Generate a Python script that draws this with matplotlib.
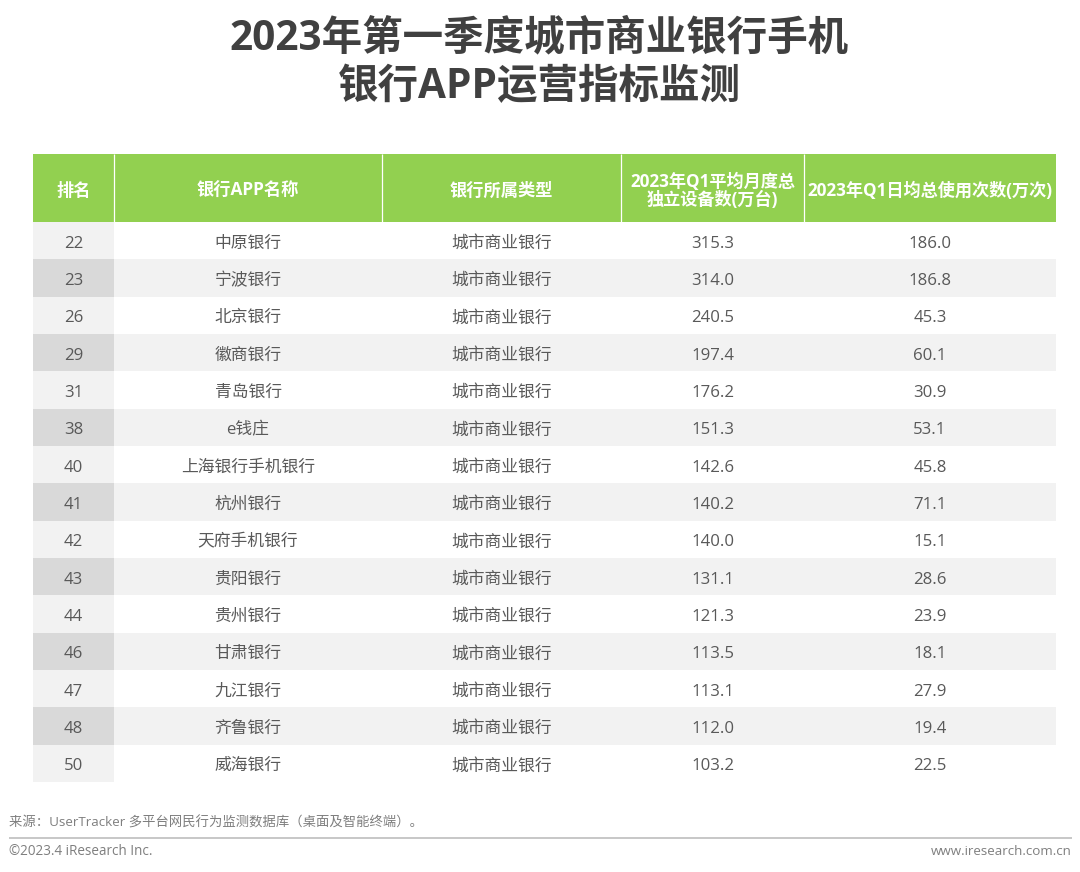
import matplotlib
matplotlib.use("Agg")
import matplotlib.pyplot as plt
from matplotlib.patches import Rectangle

plt.rcParams['font.family'] = ['Open Sans', 'Noto Sans CJK SC', 'DejaVu Sans']

title_lines = ["2023年第一季度城市商业银行手机", "银行APP运营指标监测"]
headers = ["排名", "银行APP名称", "银行所属类型", "2023年Q1平均月度总\n独立设备数(万台)", "2023年Q1日均总使用次数(万次)"]
ranks = [22, 23, 26, 29, 31, 38, 40, 41, 42, 43, 44, 46, 47, 48, 50]
names = ["中原银行", "宁波银行", "北京银行", "徽商银行", "青岛银行", "e钱庄", "上海银行手机银行", "杭州银行",
         "天府手机银行", "贵阳银行", "贵州银行", "甘肃银行", "九江银行", "齐鲁银行", "威海银行"]
bank_type = "城市商业银行"
devices = [315.3, 314.0, 240.5, 197.4, 176.2, 151.3, 142.6, 140.2, 140.0, 131.1, 121.3, 113.5, 113.1, 112.0, 103.2]
usage = [186.0, 186.8, 45.3, 60.1, 30.9, 53.1, 45.8, 71.1, 15.1, 28.6, 23.9, 18.1, 27.9, 19.4, 22.5]
source = "来源：UserTracker 多平台网民行为监测数据库（桌面及智能终端）。"
copyright_text = "©2023.4 iResearch Inc."
website = "www.iresearch.com.cn"

col_edges = [33, 114, 382, 621, 804, 1056]
header_top, header_bottom = 154, 222
row_h = 37.33
GREEN, TXT = "#92d050", "#595959"

fig = plt.figure(figsize=(10.8, 8.72), dpi=100)
ax = fig.add_axes([0, 0, 1, 1])
ax.set_xlim(0, 1080)
ax.set_ylim(872, 0)
ax.axis("off")

for line, y in zip(title_lines, [39, 88]):
    ax.text(539, y, line, ha="center", va="center", fontsize=29.2, fontweight="bold", color="#404040")

ax.add_patch(Rectangle((col_edges[0], header_top), col_edges[-1] - col_edges[0], header_bottom - header_top,
                       fc=GREEN, ec="none"))
for x in col_edges[1:-1]:
    ax.plot([x, x], [header_top, header_bottom], color="#ffffff", lw=0.9, solid_capstyle="butt")
centers = [(a + b) / 2 for a, b in zip(col_edges[:-1], col_edges[1:])]
for i, (cx, h) in enumerate(zip(centers, headers)):
    ax.text(cx, 191, h, ha="center", va="center", fontsize=12.4 if i < 3 else 12.35, fontweight="bold",
            color="#ffffff", linespacing=1.02)

for i, (r, n, d, u) in enumerate(zip(ranks, names, devices, usage)):
    top = header_bottom + i * row_h
    odd = i % 2 == 1
    if odd:
        ax.add_patch(Rectangle((col_edges[1], top), col_edges[-1] - col_edges[1], row_h, fc="#f2f2f2", ec="none"))
    ax.add_patch(Rectangle((col_edges[0], top), col_edges[1] - col_edges[0], row_h,
                           fc="#d9d9d9" if odd else "#f2f2f2", ec="none"))
    row = [str(r), n, bank_type, f"{d:.1f}", f"{u:.1f}"]
    for cx, val in zip(centers, row):
        ax.text(cx, top + row_h / 2 + 3, val, ha="center", va="center", fontsize=12.1, color=TXT)

ax.text(9, 823, source, ha="left", va="center", fontsize=9.6, color="#7f7f7f")
ax.plot([9, 1072], [837.5, 837.5], color="#b8b8b8", lw=1.1, solid_capstyle="butt")
ax.text(9, 851.5, copyright_text, ha="left", va="center", fontsize=9.75, color="#7f7f7f")
ax.text(1072, 851.5, website, ha="right", va="center", fontsize=9.6, color="#7f7f7f")

fig.savefig("out.png", dpi=100, facecolor="white")
